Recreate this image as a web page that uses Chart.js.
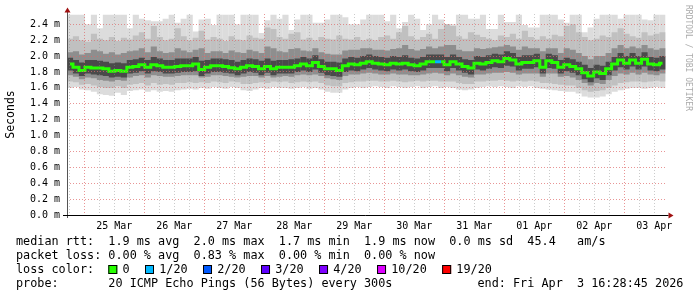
<!DOCTYPE html>
<html>
<head>
<meta charset="utf-8">
<script src="https://cdn.jsdelivr.net/npm/chart.js@4.4.1/dist/chart.umd.min.js"></script>
<style>
  html, body { margin: 0; padding: 0; background: #fff; }
  canvas { display: block; }
</style>
</head>
<body>
<canvas id="smoke" width="697" height="297"></canvas>
<script>
// time window in hours since 24 Mar 00:00 (end = Fri Apr 3 16:28:45)
var startHour = 17.08;
var endHour = 256.48;

var dayLabels = ['25 Mar', '26 Mar', '27 Mar', '28 Mar', '29 Mar', '30 Mar', '31 Mar', '01 Apr', '02 Apr', '03 Apr'];
var yLabels = ['0.0 m', '0.2 m', '0.4 m', '0.6 m', '0.8 m', '1.0 m', '1.2 m', '1.4 m', '1.6 m', '1.8 m', '2.0 m', '2.2 m', '2.4 m'];

// median rtt (ms), one value per column
var median = [
  1.90, 1.86, 1.82, 1.86, 1.85, 1.85, 1.84, 1.81, 1.82, 1.81, 1.86, 1.87, 1.89, 1.86, 1.89, 1.88, 1.86, 1.86, 1.87, 1.88, 1.88, 1.90, 1.83, 1.86, 1.88,
  1.88, 1.87, 1.855, 1.84, 1.86, 1.88, 1.87, 1.84, 1.87, 1.84, 1.86, 1.86, 1.86, 1.88, 1.90, 1.88, 1.92, 1.87, 1.84, 1.84, 1.82, 1.88, 1.90, 1.89, 1.91,
  1.93, 1.91, 1.90, 1.89, 1.91, 1.90, 1.91, 1.89, 1.88, 1.90, 1.93, 1.93, 1.93, 1.89, 1.93, 1.90, 1.87, 1.85, 1.91, 1.90, 1.92, 1.94, 1.93, 1.97, 1.95,
  1.90, 1.92, 1.92, 1.94, 1.86, 1.94, 1.92, 1.86, 1.89, 1.87, 1.84, 1.79, 1.75, 1.80, 1.78, 1.84, 1.90, 1.95, 1.91, 1.95, 1.91, 1.96, 1.90, 1.89, 1.91
];
// lost pings out of 20 per column
var loss = [
  0,0,0,0,0,0,0,0,0,0, 0,0,0,0,0,0,0,0,0,0, 0,0,0,0,0, 0,0,0,0,0,0,0,0,0,0, 0,0,0,0,0,0,0,0,0,0, 0,0,0,0,0,
  0,0,0,0,0,0,0,0,0,0, 0,0,1,0,0,0,0,0,0,0, 0,0,0,0,0, 0,0,0,0,0,0,0,0,0,0, 0,0,0,0,0,0,0,0,0,0, 0,0,0,0,0
];

// smoke: spread of the 20 pings, outer to inner
var smokeMax = [
  2.52, 2.52, 2.52, 2.40, 2.52, 2.35, 2.52, 2.52, 2.52, 2.52, 2.35, 2.52, 2.47, 2.45, 2.44, 2.44, 2.47, 2.52, 2.42, 2.47, 2.52, 2.31, 2.46, 2.47, 2.39,
  2.52, 2.52, 2.52, 2.40, 2.52, 2.52, 2.52, 2.29, 2.45, 2.52, 2.47, 2.52, 2.33, 2.46, 2.52, 2.52, 2.42, 2.42, 2.46, 2.52, 2.52, 2.49, 2.40, 2.40, 2.46,
  2.52, 2.52, 2.52, 2.44, 2.52, 2.35, 2.43, 2.52, 2.47, 2.33, 2.40, 2.52, 2.46, 2.40, 2.40, 2.52, 2.52, 2.47, 2.47, 2.52, 2.34, 2.34, 2.52, 2.43, 2.43,
  2.52, 2.39, 2.36, 2.36, 2.52, 2.52, 2.52, 2.46, 2.42, 2.52, 2.52, 2.30, 2.36, 2.47, 2.52, 2.52, 2.52, 2.47, 2.52, 2.52, 2.52, 2.46, 2.45, 2.52, 2.52
];
var smokeHi = [
  2.22, 2.25, 2.20, 2.18, 2.28, 2.22, 2.20, 2.24, 2.19, 2.23, 2.21, 2.26, 2.30, 2.22, 2.38, 2.24, 2.20, 2.22, 2.35, 2.25, 2.20, 2.23, 2.32, 2.21, 2.24,
  2.22, 2.19, 2.25, 2.21, 2.20, 2.26, 2.23, 2.22, 2.36, 2.34, 2.24, 2.22, 2.28, 2.30, 2.21, 2.23, 2.20, 2.24, 2.22, 2.21, 2.26, 2.22, 2.21, 2.24, 2.20,
  2.22, 2.20, 2.24, 2.26, 2.22, 2.30, 2.38, 2.25, 2.21, 2.24, 2.28, 2.22, 2.34, 2.40, 2.38, 2.25, 2.22, 2.30, 2.27, 2.24, 2.22, 2.20, 2.26, 2.24, 2.28,
  2.22, 2.32, 2.24, 2.21, 2.25, 2.22, 2.27, 2.25, 2.38, 2.40, 2.30, 2.24, 2.20, 2.22, 2.26, 2.24, 2.30, 2.35, 2.28, 2.25, 2.23, 2.30, 2.26, 2.28, 2.30
];
var smokeMid = [
  2.05, 2.06, 2.02, 2.04, 2.08, 2.06, 2.03, 2.05, 2.02, 2.04, 2.06, 2.07, 2.10, 2.05, 2.12, 2.06, 2.04, 2.05, 2.10, 2.07, 2.05, 2.08, 2.10, 2.04, 2.06,
  2.06, 2.04, 2.07, 2.05, 2.04, 2.08, 2.06, 2.04, 2.12, 2.10, 2.06, 2.05, 2.09, 2.10, 2.07, 2.06, 2.10, 2.05, 2.03, 2.02, 2.02, 2.07, 2.08, 2.08, 2.10,
  2.10, 2.08, 2.08, 2.07, 2.09, 2.10, 2.14, 2.09, 2.07, 2.09, 2.12, 2.10, 2.12, 2.14, 2.14, 2.08, 2.06, 2.06, 2.10, 2.09, 2.10, 2.11, 2.12, 2.14, 2.12,
  2.08, 2.12, 2.10, 2.10, 2.06, 2.10, 2.10, 2.04, 2.10, 2.08, 2.04, 2.00, 1.96, 2.00, 2.00, 2.04, 2.10, 2.14, 2.10, 2.12, 2.10, 2.14, 2.10, 2.08, 2.10
];
var coreHi = [
  1.98, 1.95, 1.92, 1.95, 1.95, 1.94, 1.93, 1.91, 1.92, 1.91, 1.95, 1.96, 1.98, 1.95, 1.99, 1.97, 1.95, 1.95, 1.97, 1.97, 1.97, 1.99, 1.94, 1.95, 1.97,
  1.97, 1.96, 1.95, 1.93, 1.95, 1.97, 1.96, 1.94, 1.97, 1.94, 1.95, 1.95, 1.96, 1.97, 1.99, 1.97, 2.01, 1.96, 1.93, 1.93, 1.92, 1.97, 1.99, 1.98, 2.00,
  2.02, 2.00, 1.99, 1.98, 2.00, 1.99, 2.01, 1.98, 1.97, 1.99, 2.02, 2.02, 2.02, 1.99, 2.02, 1.99, 1.96, 1.95, 2.00, 1.99, 2.01, 2.03, 2.02, 2.06, 2.04,
  1.99, 2.01, 2.01, 2.03, 1.96, 2.03, 2.01, 1.95, 1.98, 1.96, 1.93, 1.89, 1.85, 1.89, 1.88, 1.93, 1.99, 2.04, 2.00, 2.04, 2.00, 2.05, 1.99, 1.98, 2.00
];
var coreLo = [
  1.82, 1.78, 1.75, 1.78, 1.77, 1.76, 1.75, 1.73, 1.74, 1.73, 1.78, 1.79, 1.81, 1.78, 1.81, 1.80, 1.78, 1.78, 1.79, 1.80, 1.80, 1.81, 1.75, 1.78, 1.80,
  1.80, 1.79, 1.78, 1.76, 1.78, 1.80, 1.79, 1.76, 1.79, 1.76, 1.78, 1.78, 1.78, 1.80, 1.82, 1.80, 1.83, 1.79, 1.76, 1.75, 1.74, 1.80, 1.82, 1.81, 1.83,
  1.85, 1.83, 1.82, 1.81, 1.83, 1.82, 1.83, 1.81, 1.80, 1.82, 1.85, 1.85, 1.85, 1.81, 1.85, 1.82, 1.79, 1.77, 1.83, 1.82, 1.84, 1.86, 1.85, 1.88, 1.87,
  1.82, 1.84, 1.84, 1.86, 1.78, 1.85, 1.84, 1.78, 1.81, 1.79, 1.76, 1.71, 1.67, 1.72, 1.70, 1.76, 1.82, 1.86, 1.83, 1.87, 1.83, 1.87, 1.82, 1.81, 1.83
];
var smokeLowMid = [
  1.76, 1.74, 1.71, 1.73, 1.72, 1.70, 1.69, 1.68, 1.70, 1.69, 1.73, 1.75, 1.76, 1.73, 1.76, 1.75, 1.74, 1.74, 1.75, 1.76, 1.76, 1.76, 1.73, 1.74, 1.76,
  1.76, 1.75, 1.74, 1.73, 1.74, 1.75, 1.75, 1.73, 1.75, 1.73, 1.74, 1.75, 1.74, 1.76, 1.77, 1.76, 1.77, 1.75, 1.72, 1.71, 1.70, 1.75, 1.77, 1.77, 1.78,
  1.79, 1.78, 1.77, 1.77, 1.78, 1.77, 1.77, 1.76, 1.76, 1.77, 1.78, 1.79, 1.78, 1.76, 1.78, 1.76, 1.74, 1.73, 1.77, 1.77, 1.78, 1.79, 1.79, 1.80, 1.79,
  1.77, 1.78, 1.78, 1.78, 1.74, 1.78, 1.78, 1.74, 1.75, 1.73, 1.70, 1.66, 1.63, 1.66, 1.65, 1.70, 1.75, 1.78, 1.77, 1.79, 1.77, 1.79, 1.77, 1.76, 1.78
];
var smokeLo = [
  1.68, 1.67, 1.64, 1.65, 1.63, 1.61, 1.60, 1.60, 1.62, 1.60, 1.64, 1.65, 1.66, 1.63, 1.66, 1.64, 1.65, 1.64, 1.66, 1.66, 1.67, 1.66, 1.67, 1.66, 1.68,
  1.67, 1.66, 1.68, 1.67, 1.65, 1.65, 1.66, 1.67, 1.66, 1.68, 1.67, 1.68, 1.66, 1.67, 1.68, 1.67, 1.68, 1.66, 1.63, 1.62, 1.62, 1.66, 1.67, 1.68, 1.68,
  1.69, 1.69, 1.68, 1.68, 1.69, 1.68, 1.67, 1.68, 1.69, 1.68, 1.69, 1.69, 1.68, 1.68, 1.68, 1.66, 1.65, 1.65, 1.68, 1.68, 1.69, 1.69, 1.70, 1.69, 1.68,
  1.69, 1.68, 1.69, 1.68, 1.66, 1.66, 1.65, 1.64, 1.63, 1.63, 1.60, 1.57, 1.55, 1.56, 1.57, 1.60, 1.63, 1.66, 1.67, 1.68, 1.68, 1.67, 1.68, 1.69, 1.68
];
var smokeMin = [
  1.60, 1.61, 1.58, 1.57, 1.55, 1.52, 1.51, 1.50, 1.54, 1.51, 1.56, 1.57, 1.58, 1.55, 1.57, 1.55, 1.56, 1.55, 1.57, 1.58, 1.59, 1.58, 1.60, 1.59, 1.61,
  1.60, 1.59, 1.61, 1.60, 1.57, 1.56, 1.58, 1.60, 1.59, 1.61, 1.60, 1.60, 1.59, 1.60, 1.61, 1.59, 1.60, 1.58, 1.55, 1.54, 1.54, 1.58, 1.60, 1.61, 1.60,
  1.61, 1.62, 1.61, 1.60, 1.62, 1.61, 1.60, 1.61, 1.62, 1.60, 1.61, 1.62, 1.60, 1.61, 1.60, 1.58, 1.57, 1.58, 1.60, 1.61, 1.62, 1.61, 1.62, 1.61, 1.60,
  1.62, 1.61, 1.62, 1.60, 1.59, 1.58, 1.57, 1.56, 1.55, 1.55, 1.53, 1.49, 1.48, 1.48, 1.49, 1.52, 1.55, 1.57, 1.59, 1.60, 1.60, 1.59, 1.60, 1.61, 1.60
];

var lossLabels = ['0', '1/20', '2/20', '3/20', '4/20', '10/20', '19/20'];
var lossSteps = [0, 1, 2, 3, 4, 10, 19];
var lossColors = ['#26ff00', '#00b8ff', '#0059ff', '#5e00ff', '#7e00ff', '#dd00ff', '#ff0000'];

var statLines = [
  'median rtt:  1.9 ms avg  2.0 ms max  1.7 ms min  1.9 ms now  0.0 ms sd  45.4   am/s',
  'packet loss: 0.00 % avg  0.83 % max  0.00 % min  0.00 % now'
];
var probeText = 'probe:       20 ICMP Echo Pings (56 Bytes) every 300s';
var endText = 'end: Fri Apr  3 16:28:45 2026';

var mono = 'DejaVu Sans Mono';
var majorGrid = 'rgba(222,104,104,0.7)';
var minorGrid = 'rgba(140,140,140,0.45)';
var step = (endHour - startHour) / median.length;
var times = median.map(function (v, i) { return startHour + (i + 0.5) * step; });

function band(lo, hi) {
  return times.map(function (t, i) { return { x: t, y: [lo[i], hi[i]] }; });
}
function points(vals) {
  return times.map(function (t, i) { return { x: t, y: vals[i] }; });
}
function lossColor(n) {
  var c = lossColors[0];
  lossSteps.forEach(function (s, k) { if (n >= s) c = lossColors[k]; });
  return c;
}

var barOpts = { type: 'bar', grouped: false, barPercentage: 1, categoryPercentage: 1.03, borderWidth: 0 };

var decor = {
  id: 'decor',
  afterDraw: function (chart) {
    var ctx = chart.ctx;
    var a = chart.chartArea;
    ctx.save();
    // axes with arrows
    ctx.lineWidth = 1;
    ctx.strokeStyle = '#555';
    ctx.beginPath();
    ctx.moveTo(a.left + 0.5, a.bottom + 3);
    ctx.lineTo(a.left + 0.5, 11);
    ctx.stroke();
    ctx.strokeStyle = '#000';
    ctx.beginPath();
    ctx.moveTo(a.left - 4, a.bottom + 0.5);
    ctx.lineTo(a.right + 3, a.bottom + 0.5);
    ctx.stroke();
    ctx.fillStyle = '#a01010';
    ctx.beginPath();
    ctx.moveTo(a.left - 2.5, 12.5); ctx.lineTo(a.left + 3.5, 12.5); ctx.lineTo(a.left + 0.5, 7.5);
    ctx.closePath(); ctx.fill();
    ctx.beginPath();
    ctx.moveTo(a.right + 3, a.bottom - 2.5); ctx.lineTo(a.right + 3, a.bottom + 3.5); ctx.lineTo(a.right + 8, a.bottom + 0.5);
    ctx.closePath(); ctx.fill();

    // watermark
    ctx.save();
    ctx.translate(688, 5);
    ctx.rotate(Math.PI / 2);
    ctx.fillStyle = '#aaa';
    ctx.font = '8px "' + mono + '"';
    ctx.textBaseline = 'middle';
    ctx.fillText('RRDTOOL / TOBI OETIKER', 0, 0);
    ctx.restore();

    // legend block
    ctx.fillStyle = '#000';
    ctx.font = '11.8px "' + mono + '"';
    ctx.textBaseline = 'alphabetic';
    ctx.fillText(statLines[0], 16, 245);
    ctx.fillText(statLines[1], 16, 259);
    ctx.fillText('loss color:', 16, 273);
    var x = 108.3;
    lossLabels.forEach(function (lab, k) {
      ctx.fillStyle = lossColors[k];
      ctx.fillRect(x, 265, 9, 9);
      ctx.strokeStyle = '#000';
      ctx.strokeRect(x + 0.5, 265.5, 8, 8);
      ctx.fillStyle = '#000';
      ctx.fillText(lab, x + 14.2, 273);
      x += 14.2 + ctx.measureText(lab).width + 15.4;
    });
    ctx.fillText(probeText, 16, 287);
    ctx.fillText(endText, 477.5, 287);
    ctx.restore();
  }
};

new Chart(document.getElementById('smoke'), {
  type: 'bar',
  data: {
    datasets: [
      { type: 'line', data: points(median), borderWidth: 3, borderColor: '#26ff00', pointRadius: 0, stepped: 'middle', order: 1,
        segment: { borderColor: function (c) { return lossColor(loss[c.p1DataIndex]); } } },
      Object.assign({}, barOpts, { data: band(coreLo, coreHi), backgroundColor: '#4a4a4a', order: 3 }),
      Object.assign({}, barOpts, { data: band(smokeLowMid, smokeMid), backgroundColor: '#8e8e8e', order: 4 }),
      Object.assign({}, barOpts, { data: band(smokeLo, smokeHi), backgroundColor: '#c0c0c0', order: 5 }),
      Object.assign({}, barOpts, { data: band(smokeMin, smokeMax), backgroundColor: '#dcdcdc', order: 6 })
    ]
  },
  options: {
    responsive: false,
    animation: false,
    devicePixelRatio: 1,
    layout: { autoPadding: false, padding: { left: 0, top: 14, right: 31.5, bottom: 0 } },
    plugins: { legend: { display: false }, tooltip: { enabled: false } },
    scales: {
      x: {
        type: 'linear',
        offset: false,
        min: startHour,
        max: endHour,
        afterBuildTicks: function (s) {
          var t = [];
          for (var h = 18; h < endHour; h += 6) t.push({ value: h });
          s.ticks = t;
        },
        afterFit: function (s) { s.height = 82; },
        ticks: {
          autoSkip: false, maxRotation: 0, padding: 5, color: '#000',
          font: { family: mono, size: 10 },
          callback: function (v) { return v % 24 === 12 ? dayLabels[(v - 12) / 24 - 1] : ''; }
        },
        grid: {
          z: 1, offset: false, drawTicks: false, lineWidth: 1,
          color: function (c) { return c.tick && c.tick.value % 24 === 0 ? majorGrid : minorGrid; }
        },
        border: { display: false, dash: [1, 2] }
      },
      y: {
        min: 0,
        max: 2.53,
        afterBuildTicks: function (s) {
          var t = [];
          for (var k = 0; k <= 25; k++) t.push({ value: k / 10 });
          s.ticks = t;
        },
        afterFit: function (s) { s.width = 67; },
        ticks: {
          padding: 7, color: '#000',
          font: { family: mono, size: 10 },
          callback: function (v) { var k = Math.round(v * 10); return k % 2 === 0 ? yLabels[k / 2] : ''; }
        },
        grid: {
          z: 1, drawTicks: false, lineWidth: 1,
          color: function (c) { return c.tick && Math.round(c.tick.value * 10) % 2 === 0 ? majorGrid : minorGrid; }
        },
        border: { display: false, dash: [1, 2] },
        title: { display: true, text: 'Seconds', color: '#000', font: { family: mono, size: 11.5 } }
      }
    }
  },
  plugins: [decor]
});
</script>
</body>
</html>
